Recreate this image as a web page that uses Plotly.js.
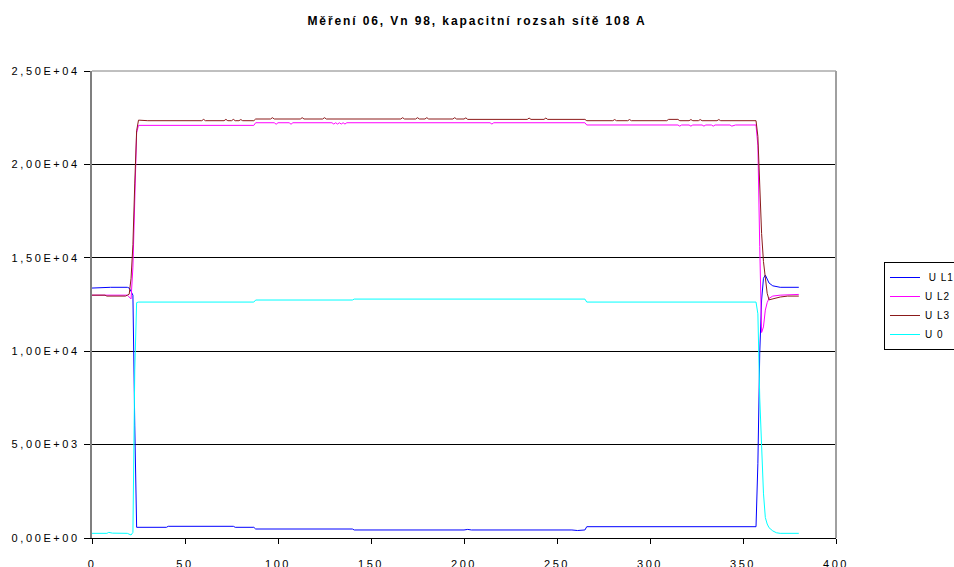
<!DOCTYPE html>
<html>
<head>
<meta charset="utf-8">
<script src="https://cdn.plot.ly/plotly-3.0.1.min.js"></script>
<style>
  html, body { margin: 0; padding: 0; background: #fff; }
  #chart { width: 954px; height: 567px; }
  .gtitle { letter-spacing: 1.9px; }
  .xtick text, .ytick text { letter-spacing: 2.6px; }
  .legendtext { letter-spacing: 1px; }
</style>
</head>
<body>
<div id="chart"></div>
<script>
// ---- data ----
const titleText = "Měření 06, Vn 98, kapacitní rozsah sítě 108 A";
const seriesNames = ["\u00a0U L1", "U L2", "U L3", "U 0"];
const seriesColors = ["#0000FF", "#FF00FF", "#8B1A1A", "#00FFFF"];

const xTickVals = [0, 50, 100, 150, 200, 250, 300, 350, 400];
const yTickVals = [0, 5000, 10000, 15000, 20000, 25000];
const yTickText = ["0,00E+00", "5,00E+03", "1,00E+04", "1,50E+04", "2,00E+04", "2,50E+04"];

const xL1 = [0,4,10,19,20,21,22,23,24,40,41,76,77,87,88,140,141,200,202,204,222,224,226,240,242,244,258,261,263,265,266,357,358,359,360,361,362,363,364,366,370,380];
const yL1 = [13380,13400,13420,13420,13380,13200,13000,6000,573,573,626,626,573,573,482,482,430,430,460,430,430,460,430,430,460,430,430,400,430,430,605,605,4000,9900,12740,13900,14080,13850,13650,13500,13420,13420];

const xL2 = [0,19,20,21,22,23,24,25,87,88,98,99,100,106,107,108,129,130,131,132,133,134,135,136,137,214,215,216,265,266,278,279,305,306,315,316,317,321,322,323,328,329,330,333,334,335,343,344,346,357,358,359,360,361,362,363,364,366,370,380];
const yL2 = [13000,13000,12900,12800,14500,19000,21700,22090,22090,22230,22230,22150,22230,22230,22150,22230,22230,22160,22230,22160,22230,22160,22230,22160,22230,22230,22160,22230,22230,22110,22110,22070,22070,22110,22110,22050,22110,22110,22050,22110,22110,22050,22110,22110,22050,22110,22110,22050,22110,22110,21000,15600,11000,11300,12200,12600,12830,12950,13000,13040];

const xL3 = [0,7,8,18,19,20,21,22,23,24,25,30,59,60,61,71,72,73,75,76,77,79,80,81,87,88,96,97,98,112,113,114,124,125,126,141,142,158,159,166,167,168,174,175,176,179,180,181,194,195,196,200,201,202,234,235,236,243,244,245,265,266,280,281,282,288,289,290,309,310,315,316,321,322,323,326,327,328,336,337,338,357,358,359,360,361,362,363,364,366,370,374,380];
const yL3 = [13000,13000,12950,12950,13000,13050,13900,15700,19000,21800,22370,22340,22340,22410,22340,22340,22410,22340,22340,22410,22340,22340,22400,22340,22340,22430,22430,22500,22430,22430,22500,22430,22430,22500,22430,22430,22470,22470,22430,22430,22500,22430,22430,22500,22430,22430,22500,22430,22430,22500,22430,22430,22490,22410,22410,22480,22410,22410,22480,22410,22410,22340,22340,22400,22340,22340,22400,22340,22340,22410,22410,22340,22340,22400,22340,22340,22400,22340,22340,22400,22340,22340,21500,18700,16300,14800,13800,13100,12750,12800,12900,12950,12950];

const xU0 = [0,8,9,10,11,19,20,21,22,23,24,25,87,88,140,141,265,266,357,358,359,360,361,362,363,364,366,368,370,380];
const yU0 = [250,250,300,300,260,250,220,160,300,9000,12600,12630,12630,12740,12740,12790,12790,12630,12630,12000,7500,4800,2400,1100,750,550,380,280,250,250];

// ---- chart ----
const xs = [xL1, xL2, xL3, xU0];
const ys = [yL1, yL2, yL3, yU0];
const traces = xs.map((x, i) => ({
  type: "scatter",
  mode: "lines",
  x: x,
  y: ys[i],
  name: seriesNames[i],
  legendgroup: "g" + i,
  line: { color: seriesColors[i], width: 1 },
  hoverinfo: "skip"
}));

const FONT = "Liberation Sans, Arial, sans-serif";

const layout = {
  width: 954,
  height: 567,
  paper_bgcolor: "#ffffff",
  plot_bgcolor: "#ffffff",
  margin: { l: 92, r: 118, t: 71, b: 29, autoexpand: false },
  font: { family: FONT, size: 11, color: "#000" },
  title: {
    text: titleText,
    font: { family: FONT, size: 12, color: "#000", weight: "bold" },
    x: 0.5, xref: "container", xanchor: "center",
    y: 1 - 21 / 567, yref: "container", yanchor: "middle"
  },
  showlegend: true,
  legend: {
    x: 1.0645, xanchor: "left",
    y: 0.591, yanchor: "top",
    bgcolor: "#ffffff",
    bordercolor: "#000000",
    borderwidth: 1,
    font: { family: FONT, size: 10, color: "#000" },
    traceorder: "normal",
    tracegroupgap: 6
  },
  xaxis: {
    range: [0, 400],
    tickmode: "array",
    tickvals: xTickVals,
    ticktext: xTickVals.map(String),
    ticks: "outside",
    ticklen: 5,
    tickcolor: "#000",
    tickwidth: 1,
    showline: true,
    linecolor: "#000",
    linewidth: 1,
    showgrid: false,
    zeroline: false,
    ticklabelstandoff: 11,
    tickfont: { family: FONT, size: 11, color: "#000" },
    fixedrange: true
  },
  yaxis: {
    range: [0, 25000],
    tickmode: "array",
    tickvals: yTickVals,
    ticktext: yTickText,
    ticks: "outside",
    ticklen: 6,
    tickcolor: "#000",
    tickwidth: 1,
    showline: true,
    linecolor: "#7f7f7f",
    linewidth: 2,
    showgrid: true,
    gridcolor: "#000",
    gridwidth: 1,
    zeroline: false,
    ticklabelstandoff: 2,
    tickfont: { family: FONT, size: 11, color: "#000" },
    fixedrange: true
  },
  shapes: [
    { type: "line", xref: "paper", yref: "paper", x0: 0, x1: 1, y0: 1, y1: 1,
      line: { color: "#808080", width: 1 }, layer: "above" },
    { type: "line", xref: "paper", yref: "paper", x0: 1, x1: 1, y0: 0, y1: 1,
      line: { color: "#a0a0a0", width: 2 }, layer: "above" }
  ]
};

Plotly.newPlot("chart", traces, layout, { displayModeBar: false, staticPlot: true });
</script>
</body>
</html>
